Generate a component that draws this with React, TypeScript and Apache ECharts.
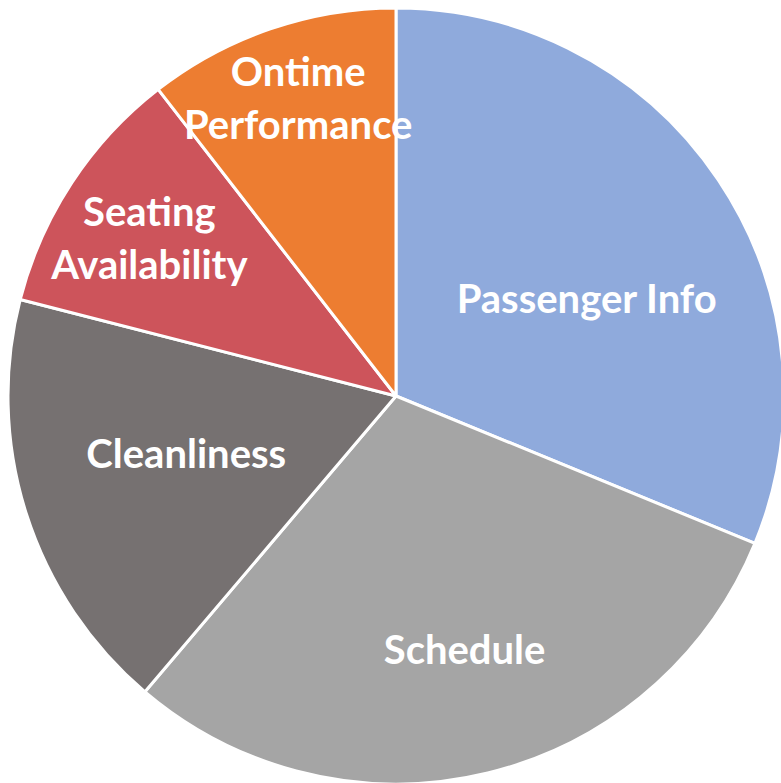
import React, { useEffect, useRef } from "react";
import * as echarts from "echarts";

const categories = ["Passenger Info", "Schedule", "Cleanliness", "Seating\nAvailability", "Ontime\nPerformance"];
const values = [31.2, 30.0, 17.8, 10.5, 10.5];

const colors = ["#8FAADC", "#A5A5A5", "#767171", "#CD545B", "#ED7D31"];
const labelOffsets: [number, number][] = [
  [27, 12],
  [22, 62],
  [-22, -3],
  [-82, -50],
  [-34, -112],
];

export default function App() {
  const ref = useRef<HTMLDivElement>(null);
  useEffect(() => {
    if (!ref.current) return;
    const chart = echarts.init(ref.current, undefined, { renderer: "svg" });
    chart.setOption({
      animation: false,
      backgroundColor: "#ffffff",
      series: [
        {
          type: "pie",
          center: [396, 396],
          radius: [0, 388],
          startAngle: 90,
          clockwise: true,
          avoidLabelOverlap: false,
          itemStyle: { borderColor: "#ffffff", borderWidth: 3 },
          label: {
            show: true,
            position: "inside",
            color: "#ffffff",
            fontFamily: "Lato",
            fontWeight: "bold",
            fontSize: 40,
            lineHeight: 53,
            formatter: "{b}",
          },
          labelLine: { show: false },
          emphasis: { disabled: true },
          data: categories.map((c, i) => ({
            name: c,
            value: values[i],
            itemStyle: { color: colors[i] },
            label: { offset: labelOffsets[i] },
          })),
        },
      ],
    });
    return () => chart.dispose();
  }, []);
  return (
    <div
      ref={ref}
      style={{ position: "fixed", left: 0, top: 0, width: 781, height: 783 }}
    />
  );
}
